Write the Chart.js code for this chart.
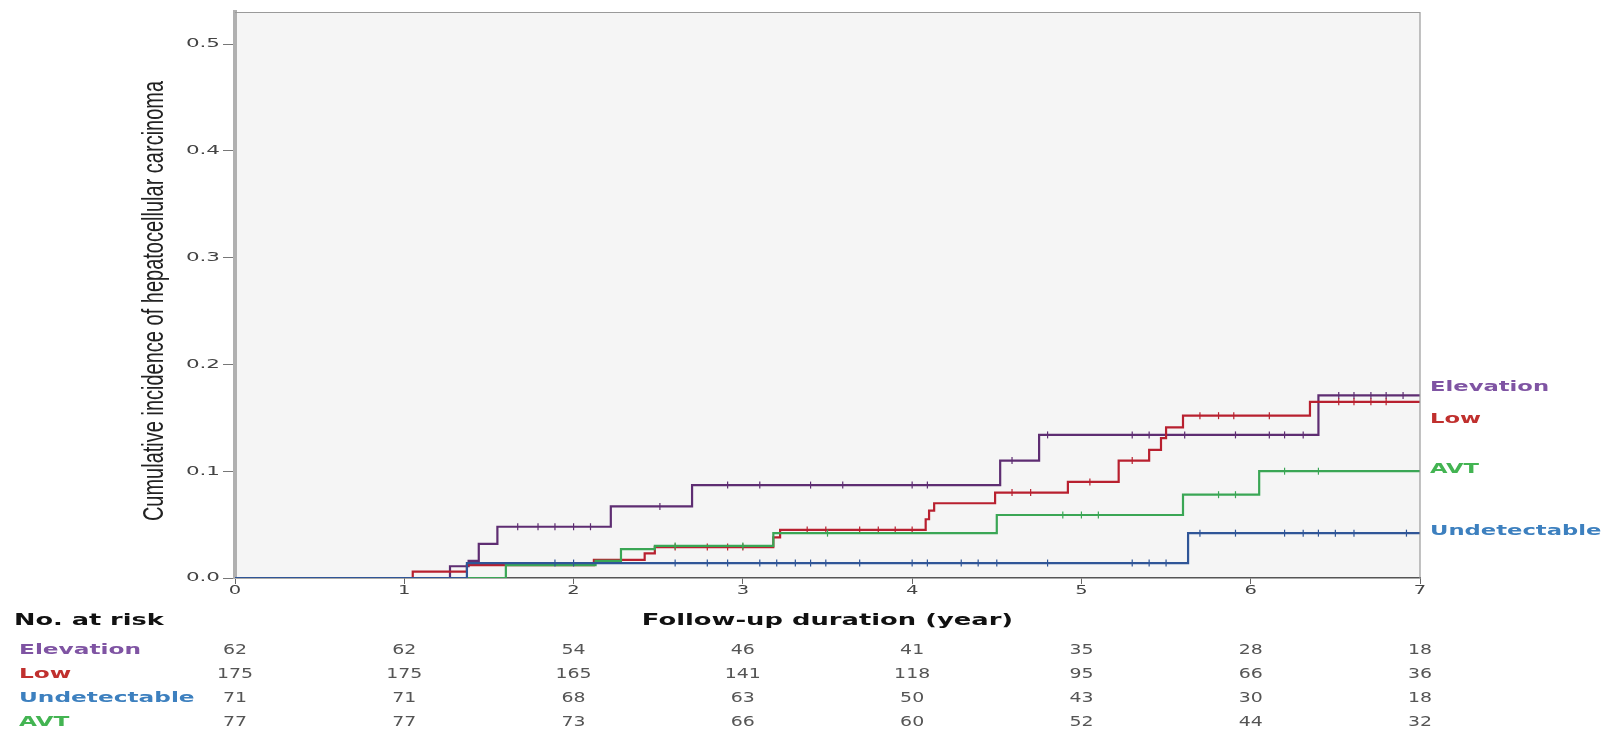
<!DOCTYPE html>
<html>
<head>
<meta charset="utf-8">
<script src="https://cdn.jsdelivr.net/npm/chart.js@4/dist/chart.umd.min.js"></script>
<style>
  html, body { margin: 0; padding: 0; background: #ffffff; }
  #wrap { width: 1602px; height: 733px; }
</style>
</head>
<body>
<div id="wrap"><canvas id="c" width="1602" height="733"></canvas></div>
<script>
// ---------- DATA ----------
const groups = ['Elevation', 'Low', 'Undetectable', 'AVT'];

// step events: times (years) and cumulative incidence after each event
const elevationTimes = [0, 1.27, 1.38, 1.44, 1.55, 2.22, 2.70, 4.52, 4.75, 6.40, 7.0];
const elevationVals  = [0, 0.011, 0.016, 0.032, 0.048, 0.067, 0.087, 0.110, 0.134, 0.171, 0.171];

const lowTimes = [0, 1.05, 1.37, 2.12, 2.42, 2.48, 3.18, 3.22, 4.08, 4.10, 4.13, 4.49, 4.92, 5.22, 5.40, 5.47, 5.50, 5.60, 6.35, 7.0];
const lowVals  = [0, 0.006, 0.012, 0.017, 0.023, 0.029, 0.038, 0.045, 0.055, 0.063, 0.070, 0.080, 0.090, 0.110, 0.120, 0.131, 0.141, 0.152, 0.165, 0.165];

const undetectableTimes = [0, 1.37, 5.63, 7.0];
const undetectableVals  = [0, 0.014, 0.042, 0.042];

const avtTimes = [0, 1.60, 2.13, 2.28, 2.48, 3.18, 4.50, 5.60, 6.05, 7.0];
const avtVals  = [0, 0.012, 0.016, 0.027, 0.030, 0.042, 0.059, 0.078, 0.100, 0.100];

// censoring times (years)
const elevationCensor = [1.67, 1.79, 1.89, 2.00, 2.10, 2.51, 2.91, 3.10, 3.40, 3.59, 4.00, 4.09, 4.59, 4.80, 5.30, 5.40, 5.61, 5.91, 6.11, 6.20, 6.31, 6.52, 6.61, 6.71, 6.80, 6.90];
const lowCensor = [2.60, 2.79, 2.91, 3.00, 3.38, 3.49, 3.69, 3.80, 3.90, 4.00, 4.59, 4.70, 5.05, 5.30, 5.70, 5.81, 5.90, 6.11, 6.52, 6.61, 6.71, 6.80];
const undetectableCensor = [1.89, 2.00, 2.60, 2.79, 2.91, 3.10, 3.20, 3.31, 3.40, 3.49, 3.69, 4.00, 4.09, 4.29, 4.39, 4.50, 4.80, 5.30, 5.40, 5.50, 5.70, 5.91, 6.20, 6.31, 6.40, 6.50, 6.61, 6.92];
const avtCensor = [2.60, 3.00, 3.50, 4.89, 5.00, 5.10, 5.81, 5.91, 6.20, 6.40];

// number at risk, at x ticks 0..7
const riskElevation    = [62, 62, 54, 46, 41, 35, 28, 18];
const riskLow          = [175, 175, 165, 141, 118, 95, 66, 36];
const riskUndetectable = [71, 71, 68, 63, 50, 43, 30, 18];
const riskAVT          = [77, 77, 73, 66, 60, 52, 44, 32];

// ticks
const xTicks = [0, 1, 2, 3, 4, 5, 6, 7];
const xTickLabels = ['0', '1', '2', '3', '4', '5', '6', '7'];
const yTicks = [0, 0.1, 0.2, 0.3, 0.4, 0.5];
const yTickLabels = ['0.0', '0.1', '0.2', '0.3', '0.4', '0.5'];

const yTitle = 'Cumulative incidence of hepatocellular carcinoma';
const xTitle = 'Follow-up duration (year)';
const riskTitle = 'No. at risk';

// ---------- STYLE ----------
const lineColors  = { Elevation: '#5e2d72', Low: '#b8202f', Undetectable: '#2f5597', AVT: '#3aa655' };
const labelColors = { Elevation: '#7f54a3', Low: '#c0302e', Undetectable: '#3d80bf', AVT: '#43b452' };
// right-side label offsets (pixels) from the final value of each curve
const endLabelOffset = { Elevation: -8, Low: 18, Undetectable: -2, AVT: -2 };

// ---------- BUILD ----------
function toPoints(ts, vs) { return ts.map((t, i) => ({ x: t, y: vs[i] })); }
function stepAt(ts, vs, t) {
  let v = 0;
  for (let i = 0; i < ts.length; i++) { if (ts[i] <= t) v = vs[i]; }
  return v;
}
const series = {
  Elevation:    { t: elevationTimes, v: elevationVals, c: elevationCensor, risk: riskElevation },
  Low:          { t: lowTimes, v: lowVals, c: lowCensor, risk: riskLow },
  Undetectable: { t: undetectableTimes, v: undetectableVals, c: undetectableCensor, risk: riskUndetectable },
  AVT:          { t: avtTimes, v: avtVals, c: avtCensor, risk: riskAVT }
};

const drawOrder = ['Undetectable', 'AVT', 'Low', 'Elevation'];
const datasets = [];
drawOrder.forEach(g => {
  const s = series[g];
  datasets.push({
    label: g,
    data: toPoints(s.t, s.v),
    stepped: true,
    borderColor: lineColors[g],
    borderWidth: 2.2,
    pointRadius: 0,
    fill: false
  });
  datasets.push({
    label: g + ' censored',
    data: s.c.map(t => ({ x: t, y: stepAt(s.t, s.v, t) })),
    showLine: false,
    pointStyle: 'line',
    rotation: 90,
    pointRadius: 3.5,
    borderWidth: 1.2,
    borderColor: lineColors[g],
    backgroundColor: lineColors[g]
  });
});

function sText(ctx, text, x, y, font, color, sx, align) {
  ctx.save();
  ctx.font = font;
  ctx.fillStyle = color;
  ctx.textBaseline = 'middle';
  ctx.textAlign = 'left';
  const w = ctx.measureText(text).width * sx;
  let x0 = x;
  if (align === 'center') x0 = x - w / 2;
  else if (align === 'right') x0 = x - w;
  ctx.translate(x0, y);
  ctx.scale(sx, 1);
  ctx.fillText(text, 0, 0);
  ctx.restore();
}

const decor = {
  id: 'decor',
  beforeDraw(chart) {
    const { ctx, chartArea: a } = chart;
    ctx.save();
    ctx.fillStyle = '#f5f5f5';
    ctx.fillRect(a.left, a.top, a.right - a.left, a.bottom - a.top);
    ctx.restore();
  },
  afterDraw(chart) {
    const { ctx, chartArea: a, scales } = chart;
    const xs = scales.x, ys = scales.y;
    // frame top & right
    ctx.save();
    ctx.strokeStyle = '#9a9a9a';
    ctx.lineWidth = 1.2;
    ctx.beginPath();
    ctx.moveTo(a.left, a.top + 0.5);
    ctx.lineTo(a.right, a.top + 0.5);
    ctx.lineTo(a.right, a.bottom);
    ctx.stroke();
    ctx.restore();

    // y tick labels
    yTicks.forEach((v, i) => {
      sText(ctx, yTickLabels[i], a.left - 15, ys.getPixelForValue(v), '13px "DejaVu Sans"', '#444444', 1.65, 'right');
    });
    // x tick labels
    xTicks.forEach((v, i) => {
      sText(ctx, xTickLabels[i], xs.getPixelForValue(v), a.bottom + 13, '13px "DejaVu Sans"', '#444444', 1.5, 'center');
    });

    // y title (rotated)
    ctx.save();
    ctx.translate(155, 301);
    ctx.rotate(-Math.PI / 2);
    ctx.scale(1, 1.45);
    ctx.font = '20px "Liberation Sans", Arial, sans-serif';
    ctx.fillStyle = '#222222';
    ctx.textAlign = 'center';
    ctx.textBaseline = 'middle';
    ctx.fillText(yTitle, 0, 0);
    ctx.restore();

    // x title
    sText(ctx, xTitle, (a.left + a.right) / 2, 621, 'bold 15px "DejaVu Sans"', '#111111', 1.72, 'center');

    // end labels
    groups.forEach(g => {
      const s = series[g];
      const y = ys.getPixelForValue(s.v[s.v.length - 1]) + endLabelOffset[g];
      sText(ctx, g, a.right + 10, y, 'bold 14px "DejaVu Sans"', labelColors[g], 1.62, 'left');
    });

    // risk table
    sText(ctx, riskTitle, 14, 621, 'bold 16px "DejaVu Sans"', '#111111', 1.6, 'left');
    const rowY = [650, 674, 698, 722];
    groups.forEach((g, r) => {
      sText(ctx, g, 19, rowY[r], 'bold 14px "DejaVu Sans"', labelColors[g], 1.66, 'left');
      series[g].risk.forEach((n, i) => {
        sText(ctx, String(n), xs.getPixelForValue(xTicks[i]), rowY[r], '14px "DejaVu Sans"', '#555555', 1.35, 'center');
      });
    });
  }
};

new Chart(document.getElementById('c'), {
  type: 'line',
  data: { datasets },
  options: {
    responsive: false,
    animation: false,
    layout: { padding: { left: 0, right: 182, top: 12, bottom: 0 } },
    plugins: { legend: { display: false }, tooltip: { enabled: false }, title: { display: false } },
    scales: {
      x: {
        type: 'linear',
        min: 0, max: 7,
        afterBuildTicks: s => { s.ticks = xTicks.map(v => ({ value: v })); },
        afterFit: s => { s.height = 155; },
        ticks: { display: false },
        grid: { display: true, drawOnChartArea: false, drawTicks: true, tickLength: 6, color: '#666666', lineWidth: 1 },
        border: { display: true, color: '#555555', width: 1.5 }
      },
      y: {
        type: 'linear',
        min: 0, max: 0.53,
        afterBuildTicks: s => { s.ticks = yTicks.map(v => ({ value: v })); },
        afterFit: s => { s.width = 235; },
        ticks: { display: false },
        grid: { display: true, drawOnChartArea: false, drawTicks: true, tickLength: 12, color: '#777777', lineWidth: 1 },
        border: { display: true, color: '#b0b0b0', width: 4 }
      }
    }
  },
  plugins: [decor]
});
</script>
</body>
</html>
